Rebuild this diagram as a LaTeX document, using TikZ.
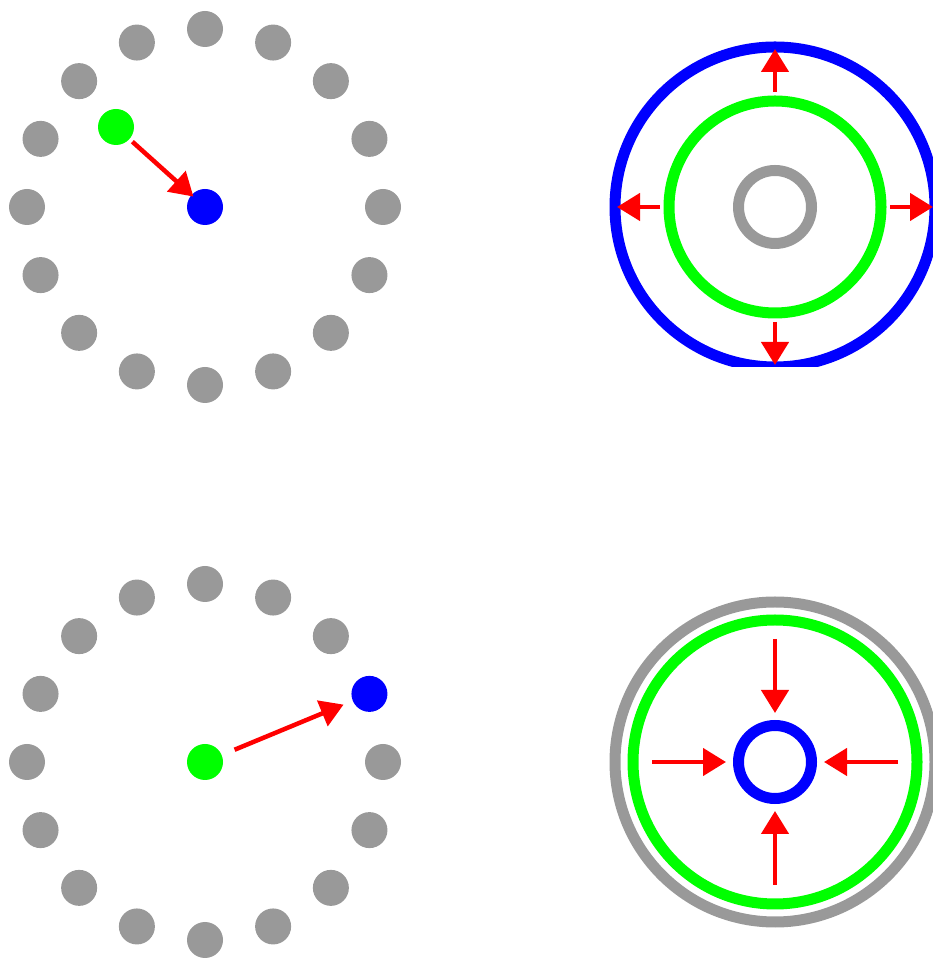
\documentclass[tikz,border=0pt]{standalone}
\usetikzlibrary{arrows.meta}

\definecolor{dotgray}{RGB}{153,153,153}
\definecolor{pgreen}{RGB}{0,255,0}
\definecolor{pblue}{RGB}{0,0,255}
\definecolor{pred}{RGB}{255,0,0}

\begin{document}
\begin{tikzpicture}[x=1pt,y=1pt,
    bead/.style={circle,fill=#1,inner sep=0pt,outer sep=0pt,minimum size=36pt},
    ring/.style={draw=#1,line width=11pt},
    push/.style={draw=pred,line width=4.5pt,-{Triangle[length=23pt,width=27pt]}}]
    \useasboundingbox (0,0) rectangle (933,958);
    \clip (0,0) rectangle (933,958);

    % Centres of the four panels
    \coordinate (C1) at (205,751);
    \coordinate (C2) at (205,196);
    \coordinate (C3) at (775,751);
    \coordinate (C4) at (775,196);

    % Top left: ring of sixteen gray beads
    \foreach \i in {0,...,15} {
        \node[bead=dotgray] (A\i) at ([shift={(22.5*\i:178)}]C1) {};
    }
    \node[bead=pgreen] (g1) at (116,831) {};
    \node[bead=pblue] (b1) at (C1) {};
    \draw[push,shorten <=4pt,shorten >=-2.4pt] (g1) -- (b1);

    % Bottom left: blue bead takes the place of one gray bead
    \foreach \i in {0,2,3,...,15} {
        \node[bead=dotgray] (B\i) at ([shift={(22.5*\i:178)}]C2) {};
    }
    \node[bead=pgreen] (g2) at (C2) {};
    \node[bead=pblue] (b2) at ([shift={(22.5:178)}]C2) {};
    \draw[push,shorten <=14pt,shorten >=10pt] (g2) -- (b2);

    % Top right: rings with arrows pointing outwards
    \begin{scope}
        \clip (600,591) rectangle (933,958);
        \draw[ring=pblue] (C3) circle[radius=160];
        \draw[ring=pgreen] (C3) circle[radius=106];
        \draw[ring=dotgray] (C3) circle[radius=36.5];
        \foreach \a in {0,90,180,270} {
            \coordinate (s\a) at ([shift={(\a:115)}]C3);
            \coordinate (t\a) at ([shift={(\a:158)}]C3);
            \draw[push] (s\a) -- (t\a);
        }
    \end{scope}

    % Bottom right: rings with arrows pointing inwards
    \draw[ring=dotgray] (C4) circle[radius=160];
    \draw[ring=pgreen] (C4) circle[radius=142];
    \draw[ring=pblue] (C4) circle[radius=36.5];
    \foreach \a in {0,90,180,270} {
        \coordinate (u\a) at ([shift={(\a:123)}]C4);
        \coordinate (v\a) at ([shift={(\a:49)}]C4);
        \draw[push] (u\a) -- (v\a);
    }

\end{tikzpicture}
\end{document}
